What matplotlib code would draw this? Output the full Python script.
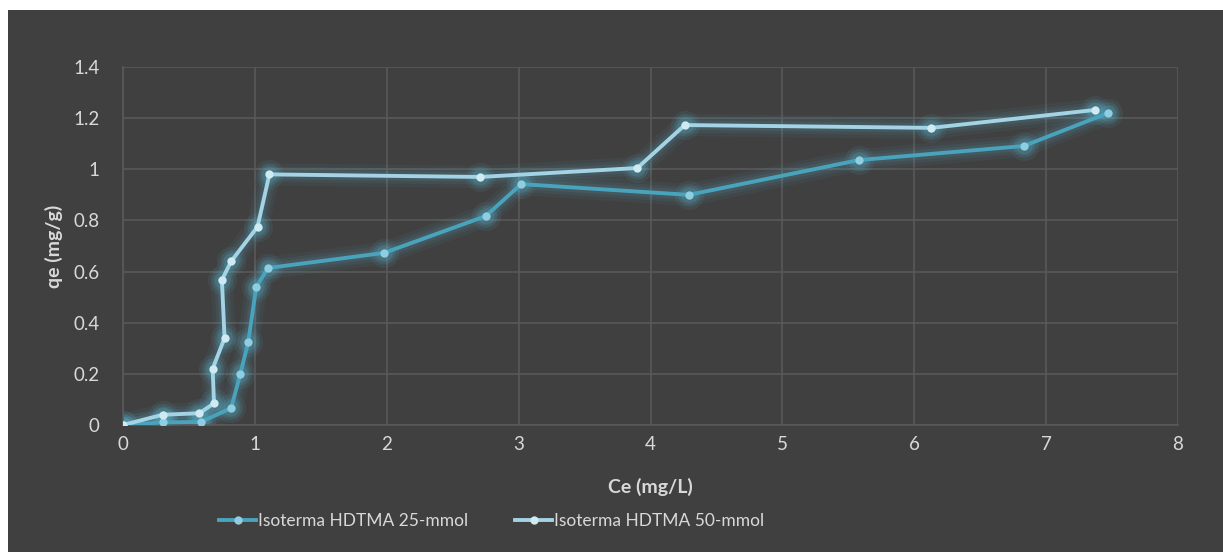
import matplotlib
matplotlib.use('Agg')
import matplotlib.pyplot as plt
from matplotlib.patches import Rectangle
from matplotlib.lines import Line2D

# isoterma HDTMA 25-mmol
ce_25 = [0.0, 0.30, 0.59, 0.82, 0.89, 0.95, 1.01, 1.10, 1.98, 2.75, 3.02, 4.29, 5.58, 6.83, 7.47]
qe_25 = [0.0, 0.01, 0.012, 0.066, 0.20, 0.325, 0.54, 0.614, 0.673, 0.817, 0.942, 0.90, 1.036, 1.091, 1.22]

# isoterma HDTMA 50-mmol
ce_50 = [0.0, 0.30, 0.58, 0.69, 0.68, 0.77, 0.75, 0.82, 1.02, 1.11, 2.71, 3.90, 4.26, 6.13, 7.37]
qe_50 = [0.0, 0.04, 0.046, 0.085, 0.22, 0.34, 0.567, 0.64, 0.775, 0.98, 0.97, 1.005, 1.173, 1.162, 1.232]

labels = ['Isoterma HDTMA 25-mmol', 'Isoterma HDTMA 50-mmol']
xticks = [0, 1, 2, 3, 4, 5, 6, 7, 8]
yticks = [0, 0.2, 0.4, 0.6, 0.8, 1.0, 1.2, 1.4]
ytick_labels = ['0', '0.2', '0.4', '0.6', '0.8', '1', '1.2', '1.4']

bg = '#404040'
grid_c = '#595959'
txt = '#d9d9d9'
line_cols = ['#4aa3bc', '#a3d3e4']
mark_cols = ['#8fcde0', '#cfeaf3']
glow_col = '#5bc0de'

plt.rcParams['font.family'] = ['Lato', 'DejaVu Sans']

fig = plt.figure(figsize=(12.23, 5.52), dpi=100)
fig.patch.set_facecolor('white')
fig.patches.append(Rectangle((8 / 1223, 0), 1 - 8 / 1223, 542 / 552,
                             transform=fig.transFigure, facecolor=bg,
                             edgecolor='none', zorder=-10))

ax = fig.add_axes([123 / 1223, 1 - 425 / 552, (1178 - 123) / 1223, (425 - 67) / 552])
ax.set_facecolor(bg)

for xs, ys, lc, mc in [(ce_25, qe_25, line_cols[0], mark_cols[0]),
                       (ce_50, qe_50, line_cols[1], mark_cols[1])]:
    # soft glow behind the line
    for lw, a in [(16, 0.05), (11, 0.07), (7, 0.09)]:
        ax.plot(xs, ys, color=glow_col, lw=lw, alpha=a, solid_capstyle='round',
                solid_joinstyle='round', zorder=2)
        ax.plot(xs, ys, ls='none', marker='o', ms=lw + 5, color=glow_col,
                alpha=a * 1.6, markeredgewidth=0, zorder=2)
    ax.plot(xs, ys, color=lc, lw=2.8, solid_joinstyle='round', zorder=3)
    ax.plot(xs, ys, ls='none', marker='o', ms=6, color=mc,
            markeredgewidth=0, zorder=4)

ax.set_xlim(0, 8)
ax.set_ylim(0, 1.4)
ax.set_xticks(xticks)
ax.set_yticks(yticks)
ax.set_yticklabels(ytick_labels)
ax.grid(True, color=grid_c, lw=1.2)
ax.set_axisbelow(True)
for s in ['top', 'right']:
    ax.spines[s].set_visible(False)
for s in ['left', 'bottom']:
    ax.spines[s].set_color(grid_c)
    ax.spines[s].set_linewidth(1.2)
ax.tick_params(length=0, colors=txt, labelsize=13.5)
ax.tick_params(axis='y', pad=17)
ax.tick_params(axis='x', pad=8)

ax.set_xlabel('Ce (mg/L)', color=txt, fontsize=14, fontweight='bold', labelpad=18)
ax.set_ylabel('qe (mg/g)', color=txt, fontsize=14, fontweight='bold', labelpad=7)

handles = [Line2D([0], [0], color=line_cols[i], lw=2.8, marker='o', ms=6,
                  markerfacecolor=mark_cols[i], markeredgewidth=0)
           for i in range(2)]
leg = fig.legend(handles, labels, loc='center', bbox_to_anchor=(492 / 1223, 1 - 521 / 552),
                 ncol=2, frameon=False, fontsize=12.5, handlelength=2.1,
                 handletextpad=0.15, columnspacing=2.7, labelcolor=txt)

fig.savefig('out.png', dpi=100, facecolor=fig.get_facecolor())
